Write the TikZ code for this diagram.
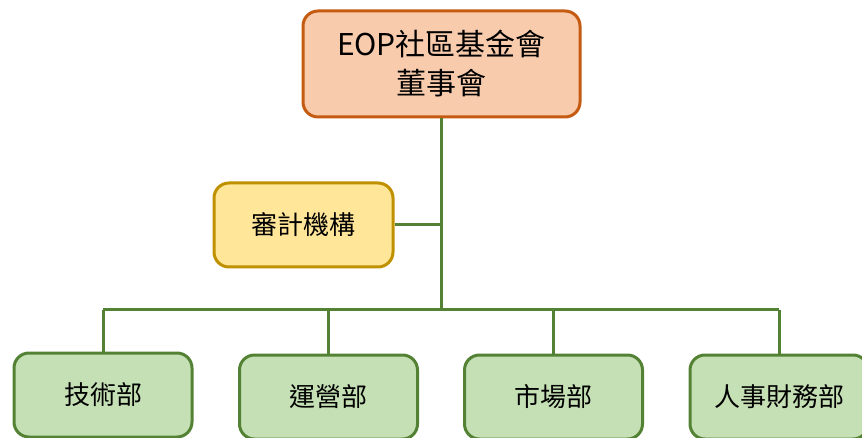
\documentclass[tikz,border=0pt]{standalone}
\usepackage{fontspec}
\setmainfont{Noto Sans CJK TC}
\definecolor{topfill}{HTML}{F8CBAD}
\definecolor{topdraw}{HTML}{C55A11}
\definecolor{audfill}{HTML}{FFE699}
\definecolor{auddraw}{HTML}{BF9000}
\definecolor{grnfill}{HTML}{C5E0B4}
\definecolor{grndraw}{HTML}{548235}
\tikzset{
  box/.style={rounded corners=15pt, line width=3pt, inner sep=0pt, align=center},
  topbox/.style={box, fill=topfill, draw=topdraw, minimum width=277pt, minimum height=106pt,
     font=\fontsize{30}{39}\selectfont},
  audbox/.style={box, fill=audfill, draw=auddraw, minimum width=179pt, minimum height=84pt,
     font=\fontsize{26}{30}\selectfont},
  deptbox/.style={box, fill=grnfill, draw=grndraw, minimum width=178pt, minimum height=84pt,
     font=\fontsize{26}{30}\selectfont},
  conn/.style={draw=grndraw, line width=3pt}
}
\begin{document}
\begin{tikzpicture}[x=1pt,y=-1pt]
\useasboundingbox (0,0) rectangle (862,438);
\clip (0,0) rectangle (862,438);
\node[topbox] (board) at (441.5,64) {EOP社區基金會\\董事會};
\node[audbox] (audit) at (303.5,225) {審計機構};
\node[deptbox] (d1) at (103,395) {技術部};
\node[deptbox] (d2) at (328.5,397) {運營部};
\node[deptbox] (d3) at (553.5,397) {市場部};
\node[deptbox] (d4) at (779,397) {人事財務部};
\coordinate (tj) at (441.5,225);
\coordinate (bus) at (441.5,310);
\coordinate (b1) at (103,310);
\coordinate (b2) at (328.5,310);
\coordinate (b3) at (553.5,310);
\coordinate (b4) at (779,310);
\draw[conn] (board.south) -- (bus);
\draw[conn] (audit.east) -- (tj);
\draw[conn] (b1) -- (b4);
\draw[conn] (b1) -- (d1.north);
\draw[conn] (b2) -- (d2.north);
\draw[conn] (b3) -- (d3.north);
\draw[conn] (b4) -- (d4.north);
\end{tikzpicture}
\end{document}
